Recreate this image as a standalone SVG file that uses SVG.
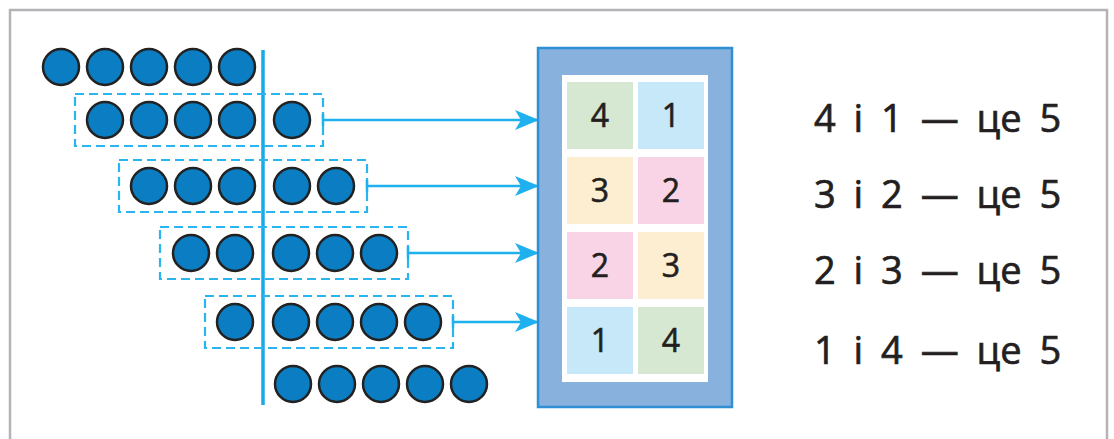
<svg xmlns="http://www.w3.org/2000/svg" width="1114" height="439" viewBox="0 0 1114 439">
<defs>
<style>
.frame{fill:#fff;stroke:#b4b4b8;stroke-width:2.5}
.dot{fill:#0a7dc3;stroke:#222;stroke-width:2.5}
.box{fill:none;stroke:#29b6f0;stroke-width:2.2;stroke-dasharray:9 5}
.axis{stroke:#1aa9e9;stroke-width:3.5}
.conn{stroke:#1fb0ee;stroke-width:2.5;fill:none}
.tick{stroke:#1fb0ee;stroke-width:2.5}
.num{font-family:"Open Sans","Noto Sans",sans-serif;font-size:32px;fill:#231f20;stroke:#231f20;stroke-width:0.6;text-anchor:middle}
.eq{font-family:"Open Sans","Noto Sans",sans-serif;font-size:38px;fill:#231f20;stroke:#231f20;stroke-width:0.7;word-spacing:8px}
</style>
<marker id="ah" viewBox="0 0 24 20" refX="22" refY="10" markerWidth="24" markerHeight="20" markerUnits="userSpaceOnUse" orient="auto">
<path d="M0,0 L24,10 L0,20 L6,10 Z" fill="#1fb0ee"/>
</marker>
</defs>
<rect class="frame" x="10" y="10" width="1097" height="440"/>
<line class="axis" x1="263" y1="50" x2="263" y2="405"/>
<g id="row1">
<circle class="dot" cx="61" cy="67" r="18"/><circle class="dot" cx="105" cy="67" r="18"/><circle class="dot" cx="149" cy="67" r="18"/><circle class="dot" cx="193" cy="67" r="18"/><circle class="dot" cx="237" cy="67" r="18"/>
</g>
<g id="row2">
<rect class="box" x="75" y="94" width="248" height="52"/>
<circle class="dot" cx="105" cy="120" r="18"/><circle class="dot" cx="149" cy="120" r="18"/><circle class="dot" cx="193" cy="120" r="18"/><circle class="dot" cx="237" cy="120" r="18"/>
<circle class="dot" cx="292" cy="120" r="18"/>
</g>
<g id="row3">
<rect class="box" x="119" y="160" width="248" height="52"/>
<circle class="dot" cx="149" cy="186" r="18"/><circle class="dot" cx="193" cy="186" r="18"/><circle class="dot" cx="237" cy="186" r="18"/>
<circle class="dot" cx="292" cy="186" r="18"/><circle class="dot" cx="336" cy="186" r="18"/>
</g>
<g id="row4">
<rect class="box" x="160" y="227" width="248" height="52"/>
<circle class="dot" cx="191" cy="253" r="18"/><circle class="dot" cx="235" cy="253" r="18"/>
<circle class="dot" cx="291" cy="253" r="18"/><circle class="dot" cx="335" cy="253" r="18"/><circle class="dot" cx="379" cy="253" r="18"/>
</g>
<g id="row5">
<rect class="box" x="205" y="296" width="248" height="52"/>
<circle class="dot" cx="235" cy="322" r="18"/>
<circle class="dot" cx="291" cy="322" r="18"/><circle class="dot" cx="335" cy="322" r="18"/><circle class="dot" cx="379" cy="322" r="18"/><circle class="dot" cx="423" cy="322" r="18"/>
</g>
<g id="row6">
<circle class="dot" cx="293" cy="384" r="18"/><circle class="dot" cx="337" cy="384" r="18"/><circle class="dot" cx="381" cy="384" r="18"/><circle class="dot" cx="425" cy="384" r="18"/><circle class="dot" cx="469" cy="384" r="18"/>
</g>
<g id="connectors">
<line class="tick" x1="323" y1="114" x2="323" y2="126"/><line class="conn" x1="323" y1="120" x2="537" y2="120" marker-end="url(#ah)"/>
<line class="tick" x1="367" y1="180" x2="367" y2="192"/><line class="conn" x1="367" y1="186" x2="537" y2="186" marker-end="url(#ah)"/>
<line class="tick" x1="408" y1="247" x2="408" y2="259"/><line class="conn" x1="408" y1="253" x2="537" y2="253" marker-end="url(#ah)"/>
<line class="tick" x1="453" y1="316" x2="453" y2="328"/><line class="conn" x1="453" y1="322" x2="537" y2="322" marker-end="url(#ah)"/>
</g>
<g id="panel">
<rect x="538" y="48" width="194" height="359" fill="#89b1dd" stroke="#2f8fd5" stroke-width="2.5"/>
<rect x="562" y="75" width="146" height="307" fill="#fff"/>
<rect x="567" y="82" width="66" height="67" fill="#d6e8d1"/><rect x="638" y="82" width="66" height="67" fill="#c6e8f8"/>
<rect x="567" y="157" width="66" height="67" fill="#fdedd1"/><rect x="638" y="157" width="66" height="67" fill="#f8d4e6"/>
<rect x="567" y="232" width="66" height="67" fill="#f8d4e6"/><rect x="638" y="232" width="66" height="67" fill="#fdedd1"/>
<rect x="567" y="307" width="66" height="67" fill="#c6e8f8"/><rect x="638" y="307" width="66" height="67" fill="#d6e8d1"/>
<text class="num" x="600" y="127">4</text><text class="num" x="671" y="127">1</text>
<text class="num" x="600" y="202">3</text><text class="num" x="671" y="202">2</text>
<text class="num" x="600" y="277">2</text><text class="num" x="671" y="277">3</text>
<text class="num" x="600" y="352">1</text><text class="num" x="671" y="352">4</text>
</g>
<g id="equations">
<text class="eq" x="814" y="132">4 і 1 — це 5</text>
<text class="eq" x="814" y="208">3 і 2 — це 5</text>
<text class="eq" x="814" y="284">2 і 3 — це 5</text>
<text class="eq" x="814" y="364">1 і 4 — це 5</text>
</g>
</svg>
